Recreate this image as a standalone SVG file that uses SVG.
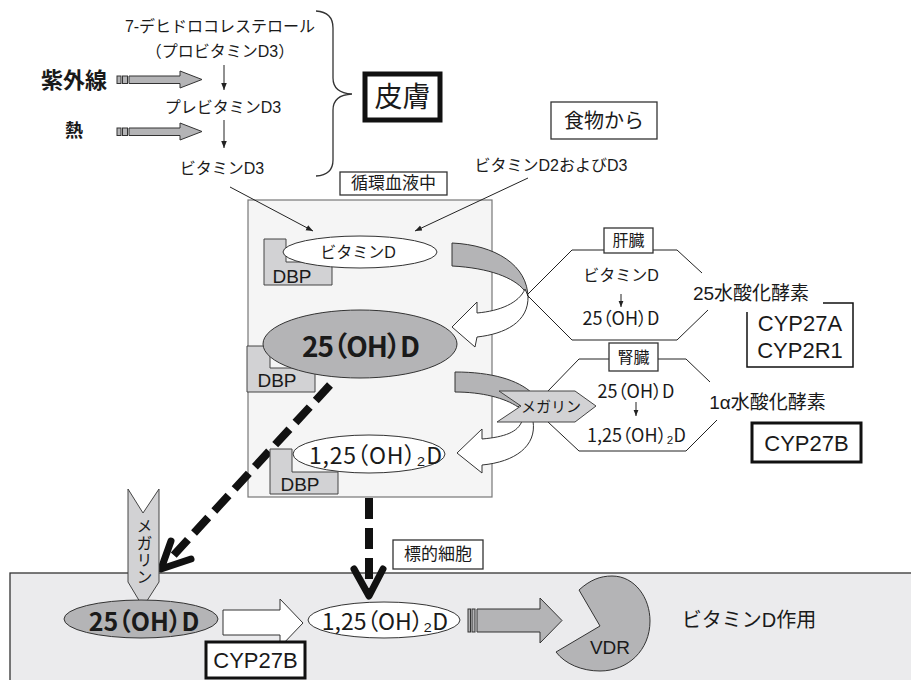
<svg xmlns="http://www.w3.org/2000/svg" width="911" height="680" viewBox="0 0 911 680">
<defs>
<style>
text{font-family:"Liberation Sans","Noto Sans CJK JP",sans-serif;fill:#1a1a1a;dominant-baseline:central;text-anchor:middle}
.p{font-feature-settings:"palt";font-family:"Noto Sans CJK JP","Liberation Sans",sans-serif}
.ln{fill:none;stroke:#222;stroke-width:1}
.bx{fill:#fff;stroke:#333;stroke-width:1.3}
.thick{fill:#fff;stroke:#111;stroke-width:3}
.gray{fill:#b4b4b6;stroke:#333;stroke-width:1}
.lg{fill:#d2d2d4;stroke:#444;stroke-width:1}
.wh{fill:#fff;stroke:#333;stroke-width:1}
.dash{fill:none;stroke:#111;stroke-width:8;stroke-dasharray:21 9}
.chev{fill:none;stroke:#111;stroke-width:7;stroke-linecap:round;stroke-linejoin:round}
</style>
<marker id="ah" viewBox="0 0 10 10" refX="10" refY="5" markerWidth="7" markerHeight="7" orient="auto" markerUnits="userSpaceOnUse">
<path d="M0,1 L10,5 L0,9 Z" fill="#222"/>
</marker>
<marker id="ahs" viewBox="0 0 10 10" refX="10" refY="5" markerWidth="6" markerHeight="6" orient="auto" markerUnits="userSpaceOnUse">
<path d="M0,1 L10,5 L0,9 Z" fill="#222"/>
</marker>
</defs>

<!-- backgrounds -->
<g id="blood-area">
<rect x="248" y="200" width="244" height="297" fill="#f5f5f5" stroke="#777" stroke-width="1.2"/>
</g>
<g id="cell-area">
<rect x="10" y="573" width="910" height="120" fill="#ebebed" stroke="#333" stroke-width="1.3"/>
</g>

<!-- connectors -->
<g id="connectors">
<line class="ln" x1="224" y1="65" x2="224" y2="90" marker-end="url(#ah)"/>
<line class="ln" x1="224" y1="120" x2="224" y2="148" marker-end="url(#ah)"/>
<path d="M316,11 Q333,12 333,28 L333,78 Q333,93 352,94 Q333,95 333,110 L333,160 Q333,175 316,176" fill="none" stroke="#333" stroke-width="1.3"/>
<rect x="117" y="76" width="4" height="7.5" class="gray"/>
<rect x="122.5" y="76" width="5" height="7.5" class="gray"/>
<path d="M129,76 L180,76 L180,71 L202,79.5 L180,88 L180,83.5 L129,83.5 Z" class="gray"/>
<rect x="117" y="128" width="4" height="7.5" class="gray"/>
<rect x="122.5" y="128" width="5" height="7.5" class="gray"/>
<path d="M129,128 L180,128 L180,123 L202,131.5 L180,140 L180,135.5 L129,135.5 Z" class="gray"/>
<line class="ln" x1="230" y1="187" x2="313" y2="231" marker-end="url(#ah)"/>
<line class="ln" x1="528" y1="178" x2="415" y2="231" marker-end="url(#ah)"/>
<path d="M452,243 C495,245 528,265 528,298 L524,290 C514,278 490,268 452,266 Z" class="gray"/>
<path d="M525,289 C519,303 500,311 477,313 L477,302 L452,327 L475,347 L477,337 C505,334 529,322 528,296 Z" class="wh"/>
<path d="M455,372 C492,372 518,380 532,393 L518,407 C505,398 482,392 455,392 Z" class="gray"/>
<path d="M522,421 C518,432 505,437 482,439 L482,429 L457,453 L482,473 L482,465 C515,462 537,446 533,421 Z" class="wh"/>
<path class="ln" d="M604,250 L572,250 L527,295 L572,340 L677,340 L708,310"/>
<path class="ln" d="M653,250 L677,250 L702,273"/>
<path class="ln" d="M609,359 L579,359 L548,391"/>
<path class="ln" d="M548,422 L579,451 L686,451 L717,420"/>
<path class="ln" d="M658,359 L686,359 L710,382"/>
<line class="ln" x1="621" y1="294" x2="621" y2="307" marker-end="url(#ahs)"/>
<line class="ln" x1="636" y1="402" x2="636" y2="416" marker-end="url(#ahs)"/>
<path d="M823,303 L853,303 L853,367 L747,367 L747,312" fill="none" stroke="#111" stroke-width="1.5"/>
<line class="dash" x1="330" y1="385" x2="172" y2="557"/>
<path class="chev" d="M171,541 L161,569 L191,559"/>
<line class="dash" x1="369" y1="498" x2="369" y2="590"/>
<path class="chev" d="M354,569 L369,596 L383,569"/>
<path d="M223,610 L280,610 L280,599 L303,623 L280,647 L280,635 L223,635 Z" class="wh"/>
<rect x="468" y="609" width="2.5" height="23" class="gray"/>
<rect x="472" y="609" width="3" height="23" class="gray"/>
<path d="M477,609 L540,609 L540,598 L562,620.5 L540,643 L540,632 L477,632 Z" class="gray"/>
</g>

<!-- nodes -->
<g id="dehydro"><text x="220" y="26.5" font-size="16">7-デヒドロコレステロール</text></g>
<g id="provitamin"><text x="220" y="51" font-size="16">（プロビタミンD3）</text></g>
<g id="uv"><text x="74" y="80" font-size="22" font-weight="bold">紫外線</text></g>
<g id="previtamin"><text x="223" y="107" font-size="16">プレビタミンD3</text></g>
<g id="heat"><text x="74" y="131" font-size="18" font-weight="bold">熱</text></g>
<g id="vitd3"><text x="222" y="168.5" font-size="16">ビタミンD3</text></g>
<g id="skin"><rect x="365" y="74" width="75" height="46" fill="#fff" stroke="#111" stroke-width="5"/><text x="402.5" y="97" font-size="28">皮膚</text></g>
<g id="blood-label"><rect x="340" y="172" width="107" height="23" class="bx"/><text x="393.5" y="183.5" font-size="17">循環血液中</text></g>
<g id="food"><rect x="551" y="102" width="106" height="37" class="bx"/><text x="604" y="120.5" font-size="20">食物から</text></g>
<g id="vitd2d3"><text x="551" y="165" font-size="16">ビタミンD2およびD3</text></g>

<g id="dbp1"><path d="M264,239 L286,239 L286,262 L332,262 L332,285 L264,285 Z" class="lg"/><text x="292" y="276" font-size="19">DBP</text></g>
<g id="vitd"><ellipse cx="360" cy="252" rx="77" ry="16" class="wh"/><text x="358" y="252" font-size="16">ビタミンD</text></g>

<g id="dbp2"><path d="M247,346 L270,346 L270,368 L315,368 L315,392 L247,392 Z" class="lg"/><text x="277" y="380.5" font-size="19">DBP</text></g>
<g id="oh25"><ellipse cx="360" cy="344" rx="97" ry="34" class="gray"/><text class="p" x="361" y="345" font-size="28" font-weight="bold" textLength="118" lengthAdjust="spacing">25（OH）D</text></g>

<g id="dbp3"><path d="M270,449 L292,449 L292,472 L338,472 L338,494 L270,494 Z" class="lg"/><text x="300" y="484.5" font-size="19">DBP</text></g>
<g id="oh125"><ellipse cx="369" cy="454" rx="76" ry="19" class="wh"/><text class="p" x="375.5" y="454" font-size="23" textLength="133" lengthAdjust="spacing">1,25（OH）₂D</text></g>

<g id="liver"><rect x="604" y="228" width="49" height="25" class="bx"/><text x="628.5" y="240.5" font-size="16">肝臓</text>
<text x="621" y="275" font-size="16">ビタミンD</text>
<text class="p" x="621" y="317" font-size="18">25（OH）D</text></g>
<g id="hydrox25"><text x="751" y="293" font-size="19">25水酸化酵素</text></g>
<g id="cyp27a"><text x="800" y="323.5" font-size="22">CYP27A</text><text x="800" y="350" font-size="22">CYP2R1</text></g>

<g id="kidney"><rect x="609" y="343" width="49" height="28" class="bx"/><text x="633.5" y="357" font-size="16">腎臓</text>
<text class="p" x="636" y="390" font-size="18">25（OH）D</text>
<text class="p" x="636.5" y="433.5" font-size="18">1,25（OH）₂D</text></g>
<g id="megalin1"><path d="M499,391 L575,391 L596,406 L575,422 L497,422 L521,406 Z" class="lg"/><text x="551" y="406" font-size="15">メガリン</text></g>
<g id="hydrox1a"><text x="767.5" y="402.5" font-size="19">1α水酸化酵素</text></g>
<g id="cyp27b-r"><rect x="752" y="423" width="109" height="39" class="thick"/><text x="806.5" y="443" font-size="22">CYP27B</text></g>

<g id="target"><rect x="393" y="540" width="90" height="29" class="bx"/><text x="438" y="554.5" font-size="17">標的細胞</text></g>
<g id="megalin2"><path d="M128,489 L143,513 L159,489 L159,582 L143,607 L128,582 Z" class="lg"/><text x="143" y="552" font-size="16" writing-mode="vertical-rl" letter-spacing="1">メガリン</text></g>
<g id="oh25b"><ellipse cx="141" cy="619" rx="77" ry="19" class="gray"/><text class="p" x="144" y="620" font-size="25" font-weight="bold">25（OH）D</text></g>
<g id="cyp27b-b"><rect x="206" y="642" width="99" height="36" class="thick"/><text x="255.5" y="660" font-size="22">CYP27B</text></g>
<g id="oh125b"><ellipse cx="384" cy="620" rx="76" ry="18" class="wh"/><text class="p" x="385" y="620" font-size="23">1,25（OH）₂D</text></g>
<g id="vdr"><path d="M600,626 L579,590 C590,580 600,576 612,576 C635,576 650,598 650,621 C650,650 628,671 600,671 C582,671 565,664 556,652 Z" class="gray"/><text x="610" y="647" font-size="19">VDR</text></g>
<g id="action"><text x="749" y="620" font-size="20">ビタミンD作用</text></g>
</svg>
